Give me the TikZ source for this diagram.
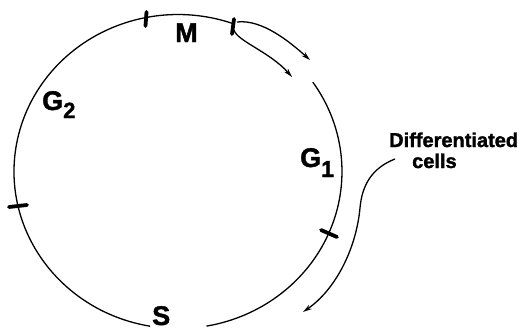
\documentclass[tikz,border=0pt]{standalone}
\usepackage{fontspec}
\setmainfont{Liberation Sans}
\newfontfamily\heavy{Liberation Sans Bold}[FakeBold=1.6]
\usetikzlibrary{arrows.meta}
\begin{document}
\begin{tikzpicture}[x=1pt,y=-1pt,
  ring/.style={line width=1.3pt},
  tickmark/.style={line width=3.8pt, line cap=round},
  flow/.style={line width=1.3pt, -{Stealth[length=9pt,width=5pt]}},
  big/.style={font=\fontsize{27}{27}\selectfont\heavy, inner sep=0pt},
  small/.style={font=\fontsize{20}{20}\selectfont\heavy, inner sep=0pt}]
\useasboundingbox (0,0) rectangle (520,330);
\coordinate (C) at (178,171.5);
% cell cycle ring (with gaps)
\draw[ring] ([shift={(-34.7:164 and 157)}]C) arc[start angle=-34.7, end angle=80, x radius=164, y radius=157];
\draw[ring] ([shift={(99.8:164 and 157)}]C) arc[start angle=99.8, end angle=289.6, x radius=164, y radius=157];
% tick marks
\coordinate (t1a) at (146.5,12); \coordinate (t1b) at (145.5,26);
\coordinate (t2a) at (234,19);   \coordinate (t2b) at (232,34);
\coordinate (t3a) at (321,230);  \coordinate (t3b) at (337,237);
\coordinate (t4a) at (9,207);    \coordinate (t4b) at (27,205);
\draw[tickmark] (t1a) -- (t1b);
\draw[tickmark] (t2a) -- (t2b);
\draw[tickmark] (t3a) -- (t3b);
\draw[tickmark] (t4a) -- (t4b);
% arrows leaving M
\coordinate (o1) at (237,22); \coordinate (o2) at (310,60);
\coordinate (i1) at (234,30); \coordinate (i2) at (292,77);
\draw[flow] (o1) .. controls (262,19) and (290,42) .. (o2);
\draw[flow] (i1) .. controls (237,41) and (270,52) .. (i2);
% labels
\node[big, anchor=base west] (m) at (175,42) {M};
\node[big, anchor=base west] (g2) at (42,110) {G\raisebox{-8pt}{\fontsize{22}{22}\selectfont 2}};
\node[big, anchor=base west] (g1) at (300,167) {G\raisebox{-10pt}{\fontsize{23}{23}\selectfont 1}};
\node[big, anchor=base west] (s) at (152,325) {S};
\node[small, anchor=base west] (d) at (389,147) {Differentiated};
\node[small, anchor=base west] (c) at (412,168) {cells};
% differentiated cells exit
\coordinate (d1) at (395,159); \coordinate (d2) at (360,208); \coordinate (d3) at (303,312);
\draw[flow] (d1) .. controls (372,168) and (362,185) .. (d2) .. controls (356,250) and (335,290) .. (d3);
\end{tikzpicture}
\end{document}
